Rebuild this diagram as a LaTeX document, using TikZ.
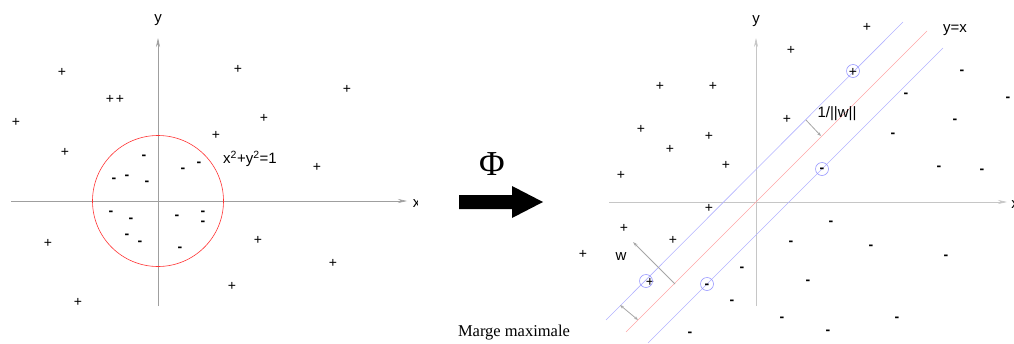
\documentclass[tikz,border=0pt]{standalone}
\usepackage{fontspec}
\setmainfont{Liberation Serif}
\newfontfamily\labelsans{Liberation Sans}
\usetikzlibrary{arrows.meta}

\tikzset{
  axis/.style={draw=gray!75, line width=0.6pt, -{Stealth[length=9pt,width=4pt]}},
  lightaxis/.style={axis, draw=gray!45},
  plussign/.style={inner sep=0pt, font=\labelsans\fontsize{14}{14}\selectfont},
  minussign/.style={inner sep=0pt, font=\labelsans\bfseries\fontsize{14}{14}\selectfont},
  lbl/.style={inner sep=0pt, font=\labelsans\fontsize{15}{15}\selectfont},
  margin/.style={draw=blue!30, line width=0.6pt},
  separator/.style={draw=red!35, line width=0.6pt},
  support/.style={circle, draw=blue!40, line width=0.6pt, minimum size=13pt, inner sep=0pt},
  gaparrow/.style={draw=gray!70, line width=0.8pt},
}

\begin{document}
\begin{tikzpicture}[x=1pt,y=-1pt]
\useasboundingbox (0,0) rectangle (1014,343);

% left: points in the plane, separated by the unit circle
\coordinate (lo) at (158,201);
\coordinate (lxs) at (11,201);
\coordinate (lxe) at (407,201);
\coordinate (lys) at (158,306);
\coordinate (lye) at (158,38);
\draw[axis] (lxs) -- (lxe);
\draw[axis] (lys) -- (lye);
\node[lbl] (ly) at (158,20) {y};
\begin{scope}
  \clip (0,0) rectangle (417,343);
  \node[lbl] (lx) at (416.5,204) {x};
\end{scope}
\draw[draw=red!80, line width=0.6pt] (lo) circle (65.5);
\node[lbl] (circ) at (250,159) {x\textsuperscript{2}+y\textsuperscript{2}=1};

\foreach \px/\py [count=\i] in {62/72, 110/99, 120/99, 16/122, 65/152, 238/69, 347/89,
    264/118, 216/135, 317/167, 48/243, 258/240, 333/263, 232/286, 78/302}
  \node[plussign] (lp\i) at (\px,\py) {+};
\foreach \px/\py [count=\i] in {144/157, 114/180, 127/177, 147/183, 183/170, 199/164,
    111/213, 131/220, 127/236, 140/243, 177/217, 203/213, 203/223, 180/249}
  \node[minussign] (lm\i) at (\px,\py) {-};

% the mapping
\fill (459,195) -- (512,195) -- (512,186) -- (543,202) -- (512,218) -- (512,209)
  -- (459,209) -- cycle;
\node[inner sep=0pt, font=\fontsize{35}{35}\selectfont] (phi) at (492,164) {Φ};
\node[inner sep=0pt, font=\fontsize{16.5}{16.5}\selectfont] (marge) at (514,333) {Marge maximale};

% right: separated by y=x with maximal margin
\coordinate (ro) at (756,202);
\coordinate (rxs) at (609,202);
\coordinate (rxe) at (1007,202);
\coordinate (rys) at (756,306);
\coordinate (rye) at (756,38);
\draw[lightaxis] (rxs) -- (rxe);
\draw[lightaxis] (rys) -- (rye);
\node[lbl] (ry) at (756,21) {y};
\begin{scope}
  \clip (0,0) rectangle (1014,343);
  \node[lbl] (rx) at (1015,205) {x};
\end{scope}

\coordinate (ups) at (606,320);
\coordinate (upe) at (903,22);
\coordinate (mids) at (626,332);
\coordinate (mide) at (927,31);
\coordinate (lows) at (648,343);
\coordinate (lowe) at (943,48);
\draw[margin] (ups) -- (upe);
\draw[margin] (lows) -- (lowe);
\draw[separator] (mids) -- (mide);
\node[lbl] (diag) at (955,30) {y=x};

\foreach \px/\py [count=\i] in {867/27, 791/50, 660/86, 713/86, 787/119, 641/129, 709/136,
    670/149, 726/165, 621/175, 709/208, 624/228, 673/240, 583/254, 853/72, 650/282}
  \node[plussign] (rp\i) at (\px,\py) {+};
\foreach \px/\py [count=\i] in {962/72, 906/95, 1008/99, 955/121, 893/135, 939/168, 982/171,
    822/170, 831/223, 791/243, 871/247, 946/257, 742/269, 808/282, 707/286, 732/302,
    782/319, 897/319, 828/332, 690/334}
  \node[minussign] (rm\i) at (\px,\py) {-};

% support vectors
\node[support] (sv1) at (853,71) {};
\node[support] (sv2) at (822,169) {};
\node[support] (sv3) at (646,281) {};
\node[support] (sv4) at (707,284) {};

% margin and normal vector
\coordinate (gapa) at (806,120);
\coordinate (gapb) at (821,136);
\draw[gaparrow, -{Stealth[length=4pt,width=3pt]}] (gapa) -- (gapb);
\node[lbl] (norm) at (837,114) {1/||w||};
\coordinate (wfoot) at (675,284);
\coordinate (wtip) at (633,242);
\draw[gaparrow, -{Stealth[length=5pt,width=3pt]}] (wfoot) -- (wtip);
\node[lbl] (w) at (621,257) {w};
\coordinate (marga) at (620,305);
\coordinate (margb) at (638,320);
\draw[gaparrow, {Stealth[length=4pt,width=3pt]}-{Stealth[length=4pt,width=3pt]}] (marga) -- (margb);
\end{tikzpicture}
\end{document}
